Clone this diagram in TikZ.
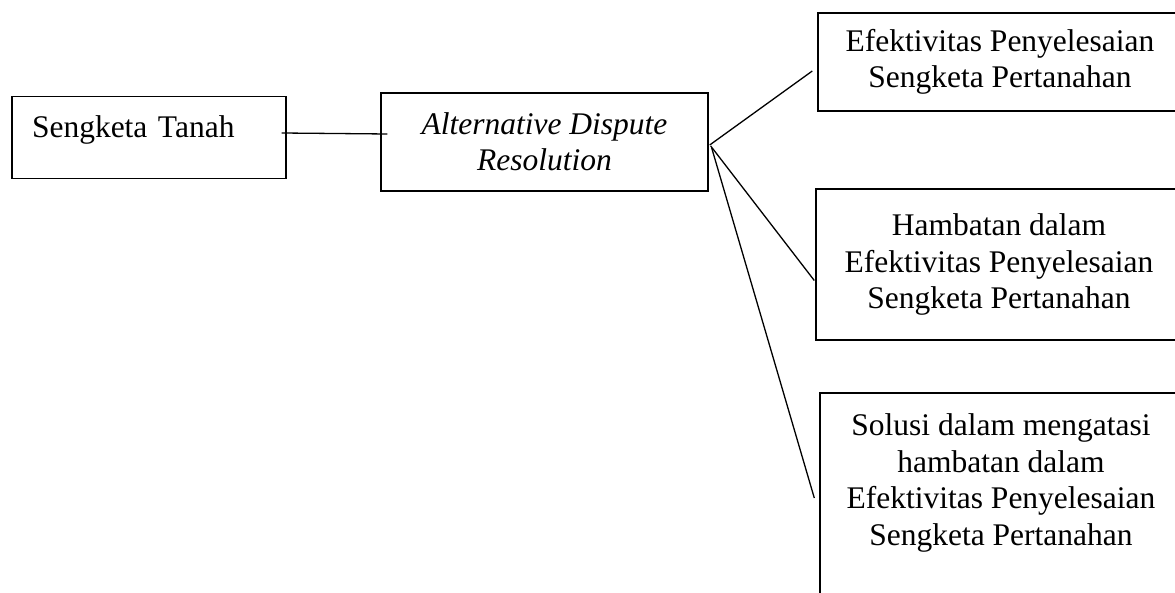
\documentclass[tikz,border=0pt]{standalone}
\usepackage{fontspec}
\setmainfont{Liberation Serif}
\usepackage{tikz}
\usetikzlibrary{positioning,calc}
\newcommand{\hurufbox}{\fontsize{31.5}{36.5}\selectfont}
\tikzstyle{kotak}=[draw, line width=1.4pt, align=center, inner sep=0pt, font=\hurufbox]
\tikzstyle{garis}=[line width=1.3pt]

\begin{document}
\begin{tikzpicture}[x=1pt,y=-1pt]
\useasboundingbox (0,0) rectangle (1175,593);
\clip (0,0) rectangle (1175,593);

\node[kotak, minimum width=274pt, minimum height=82pt, text width=234pt, align=left, text height=22pt, text depth=22pt] (tanah) at (149,137.5) {Sengketa Tanah};
\node[kotak, minimum width=327pt, minimum height=98pt, font=\hurufbox\itshape] (adr) at (544.5,142) {Alternative Dispute\\Resolution};

\node[kotak, minimum width=364pt, minimum height=98pt] (efektif) at (1000,62) {Efektivitas Penyelesaian\\Sengketa Pertanahan};
\node[kotak, minimum width=366pt, minimum height=151pt] (hambatan) at (999,264.5) {Hambatan dalam\\Efektivitas Penyelesaian\\Sengketa Pertanahan};
\node[kotak, minimum width=362pt, minimum height=210pt] (solusi) at (1001,498) {Solusi dalam mengatasi\\hambatan dalam\\Efektivitas Penyelesaian\\Sengketa Pertanahan\\ \mbox{}};

% cabang dari ADR
\coordinate (cabang) at ($(adr.east)+(2,4)$);

\draw[garis] ($(tanah.east)+(-5,-4.5)$) -- ($(adr.west)+(7,-8)$);
\draw[garis] ($(adr.east)+(1,3)$) -- ($(efektif.west)+(-5,9)$);
\draw[garis] (cabang) -- ($(hambatan.west)+(-1,16)$);
\draw[garis] ($(cabang)+(1,2)$) -- ($(solusi.west)+(-5,0)$);

\end{tikzpicture}
\end{document}
